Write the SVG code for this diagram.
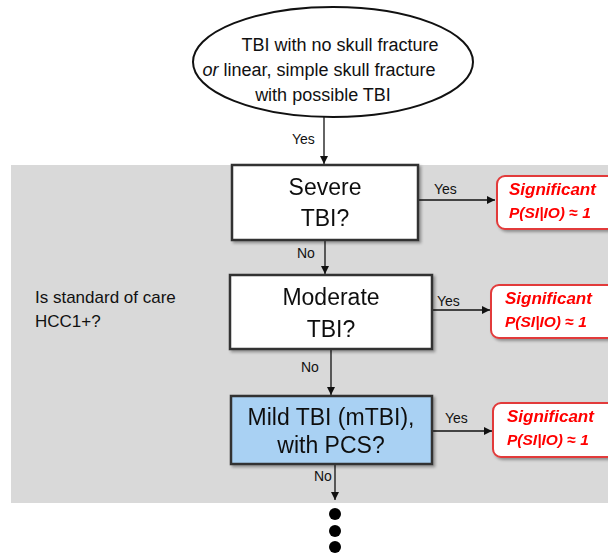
<svg xmlns="http://www.w3.org/2000/svg" width="608" height="554" viewBox="0 0 608 554">
  <defs>
    <marker id="arrow" viewBox="0 0 10 10" refX="10" refY="5" markerWidth="8" markerHeight="8" markerUnits="userSpaceOnUse" orient="auto">
      <path d="M0,0 L10,5 L0,10 z" fill="#111"/>
    </marker>
    <filter id="shadow" x="-10%" y="-10%" width="125%" height="130%">
      <feGaussianBlur in="SourceAlpha" stdDeviation="1.5"/>
      <feOffset dx="1.5" dy="2" result="off"/>
      <feComponentTransfer><feFuncA type="linear" slope="0.35"/></feComponentTransfer>
      <feMerge><feMergeNode/><feMergeNode in="SourceGraphic"/></feMerge>
    </filter>
  </defs>
  <style>
    .lbl { font-family: "Liberation Sans", Arial, sans-serif; fill: #111; }
    .small { font-size: 14px; }
    .big { font-size: 23px; text-anchor: middle; }
    .oval { font-size: 18px; text-anchor: middle; }
    .box { stroke: #333; stroke-width: 2.5; }
    .result { fill: #fff; stroke: #e23a3a; stroke-width: 2; }
    .red { font-family: "Liberation Sans", Arial, sans-serif; font-weight: bold; font-style: italic; fill: #ff0000; }
    .conn { stroke: #111; stroke-width: 1.3; fill: none; }
  </style>

  <rect width="608" height="554" fill="#fff"/>
  <!-- shaded decision region -->
  <rect id="region" x="11" y="165" width="597" height="338" fill="#d9d9d9"/>
  <g id="region-label">
    <text class="lbl" x="35" y="303" font-size="17">Is standard of care</text>
    <text class="lbl" x="35" y="327" font-size="17">HCC1+?</text>
  </g>

  <!-- connectors -->
  <g id="connectors">
    <line class="conn" x1="324" y1="117" x2="324" y2="164" marker-end="url(#arrow)"/>
    <text class="lbl small" x="292" y="144">Yes</text>

    <line class="conn" x1="418" y1="200" x2="495" y2="200" marker-end="url(#arrow)"/>
    <text class="lbl small" x="434" y="194">Yes</text>
    <line class="conn" x1="325" y1="241" x2="325" y2="274" marker-end="url(#arrow)"/>
    <text class="lbl small" x="297" y="258">No</text>

    <line class="conn" x1="427" y1="310" x2="490" y2="310" marker-end="url(#arrow)"/>
    <text class="lbl small" x="437" y="306">Yes</text>
    <line class="conn" x1="331" y1="350" x2="331" y2="395" marker-end="url(#arrow)"/>
    <text class="lbl small" x="301" y="372">No</text>

    <line class="conn" x1="432" y1="431" x2="492" y2="431" marker-end="url(#arrow)"/>
    <text class="lbl small" x="445" y="423">Yes</text>
    <line class="conn" x1="335" y1="465" x2="335" y2="500" marker-end="url(#arrow)"/>
    <text class="lbl small" x="314" y="481">No</text>
  </g>

  <!-- start condition -->
  <g id="start">
    <ellipse cx="333" cy="62" rx="140" ry="55" fill="#fff" stroke="#111" stroke-width="2"/>
    <text class="lbl oval" x="340" y="51">TBI with no skull fracture</text>
    <text class="lbl oval" x="319" y="76"><tspan font-style="italic">or</tspan> linear, simple skull fracture</text>
    <text class="lbl oval" x="323" y="101">with possible TBI</text>
  </g>

  <g id="severe" filter="url(#shadow)">
    <rect class="box" x="232" y="165" width="186" height="75" fill="#fff"/>
    <text class="lbl big" x="325" y="195">Severe</text>
    <text class="lbl big" x="325" y="226">TBI?</text>
  </g>

  <g id="moderate" filter="url(#shadow)">
    <rect class="box" x="230" y="275" width="202" height="74" fill="#fff"/>
    <text class="lbl big" x="331" y="305">Moderate</text>
    <text class="lbl big" x="331" y="337">TBI?</text>
  </g>

  <g id="mild" filter="url(#shadow)">
    <rect class="box" x="231" y="396" width="201" height="68" fill="#a9d1f3"/>
    <text class="lbl big" x="331" y="425">Mild TBI (mTBI),</text>
    <text class="lbl big" x="331" y="453">with PCS?</text>
  </g>

  <g id="result-severe" filter="url(#shadow)">
    <rect class="result" x="497" y="176" width="130" height="53" rx="8"/>
    <text class="red" x="509" y="195" font-size="17">Significant</text>
    <text class="red" x="509" y="218" font-size="15.5">P(SI|IO) ≈ 1</text>
  </g>

  <g id="result-moderate" filter="url(#shadow)">
    <rect class="result" x="491" y="285" width="136" height="53" rx="8"/>
    <text class="red" x="505" y="304" font-size="17">Significant</text>
    <text class="red" x="505" y="327" font-size="15.5">P(SI|IO) ≈ 1</text>
  </g>

  <g id="result-mild" filter="url(#shadow)">
    <rect class="result" x="493" y="403" width="134" height="54" rx="8"/>
    <text class="red" x="507" y="422" font-size="17">Significant</text>
    <text class="red" x="507" y="445" font-size="15.5">P(SI|IO) ≈ 1</text>
  </g>

  <!-- continuation -->
  <g id="more">
    <circle cx="335" cy="514" r="6" fill="#000"/>
    <circle cx="335" cy="531" r="6" fill="#000"/>
    <circle cx="335" cy="547" r="6" fill="#000"/>
  </g>
</svg>
